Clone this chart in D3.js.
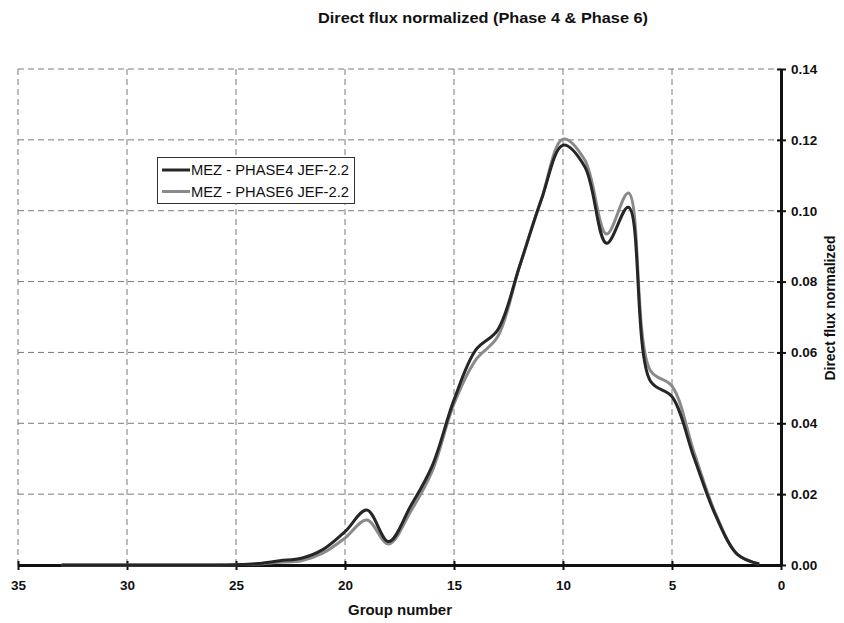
<!DOCTYPE html>
<html>
<head>
<meta charset="utf-8">
<script src="https://cdn.jsdelivr.net/npm/d3@7"></script>
<style>
  body { margin: 0; background: #fff; }
  text { font-family: "Liberation Sans", Arial, sans-serif; font-weight: bold; fill: #111; }
</style>
</head>
<body>
<svg id="chart" width="844" height="623"></svg>
<script>
// Energy groups (33 .. 1) and normalized direct flux per group
const groups = [33, 32, 31, 30, 29, 28, 27, 26, 25, 24, 23, 22, 21, 20, 19, 18, 17,
                16, 15, 14, 13, 12, 11, 10, 9, 8, 7, 6, 5, 4, 3, 2, 1];
const phase4 = [0, 0, 0, 0, 0, 0, 0, 0, 0.0001, 0.0004, 0.0012, 0.0019, 0.0044, 0.0094, 0.0155, 0.0066, 0.0165,
                0.028, 0.0466, 0.0607, 0.0663, 0.0842, 0.103, 0.1185, 0.1124, 0.0908, 0.101, 0.052, 0.0475, 0.0305, 0.014, 0.003, 0.0003];
const phase6 = [0, 0, 0, 0, 0, 0, 0, 0, 0.0001, 0.0003, 0.0008, 0.0012, 0.0034, 0.0076, 0.0127, 0.0059, 0.015,
                0.0265, 0.0455, 0.0579, 0.0644, 0.0842, 0.103, 0.1202, 0.1143, 0.0934, 0.105, 0.055, 0.0505, 0.032, 0.0145, 0.003, 0.0003];
const seriesNames = ["MEZ - PHASE4 JEF-2.2", "MEZ - PHASE6 JEF-2.2"];
const xTicks = [35, 30, 25, 20, 15, 10, 5, 0];
const yTicks = [0, 0.02, 0.04, 0.06, 0.08, 0.10, 0.12, 0.14];

const svg = d3.select("#chart");
const plotLeft = 18, plotRight = 781, plotTop = 69, plotBottom = 565;

const x = d3.scaleLinear().domain([35, 0]).range([plotLeft, plotRight]);
const y = d3.scaleLinear().domain([0, 0.14]).range([plotBottom, plotTop]);

// Title
svg.append("text").attr("x", 483).attr("y", 23).attr("text-anchor", "middle")
  .style("font-size", "15px").attr("textLength", 330).attr("lengthAdjust", "spacingAndGlyphs")
  .text("Direct flux normalized (Phase 4 & Phase 6)");

// Dashed grid
const grid = svg.append("g").attr("stroke", "#7a7a7a").attr("stroke-width", 1)
  .attr("stroke-dasharray", "6,4");
grid.selectAll("line.v").data(xTicks.filter(d => d !== 0)).join("line").attr("class", "v")
  .attr("x1", d => x(d)).attr("x2", d => x(d)).attr("y1", plotTop).attr("y2", plotBottom);
grid.selectAll("line.h").data(yTicks.filter(d => d !== 0)).join("line").attr("class", "h")
  .attr("x1", plotLeft).attr("x2", plotRight).attr("y1", d => y(d)).attr("y2", d => y(d));

// Axes
const xAxis = svg.append("g").attr("transform", `translate(0,${plotBottom})`)
  .call(d3.axisBottom(x).tickValues(xTicks).tickSize(5).tickSizeOuter(0).tickFormat(d3.format("d")));
const yAxis = svg.append("g").attr("transform", `translate(${plotRight},0)`)
  .call(d3.axisRight(y).tickValues(yTicks).tickSize(5).tickSizeOuter(0).tickFormat(d3.format(".2f")));
[xAxis, yAxis].forEach(g => {
  g.select(".domain").attr("stroke", "#111").attr("stroke-width", 3);
  g.selectAll(".tick line").attr("stroke", "#111").attr("stroke-width", 2);
  g.selectAll(".tick text").style("font-size", "13.5px").style("font-family", "Liberation Sans, Arial, sans-serif")
    .style("font-weight", "bold").attr("fill", "#111");
});
xAxis.selectAll(".tick line").attr("y1", -4).attr("y2", 5);
xAxis.selectAll(".tick text").attr("y", 15);
yAxis.selectAll(".tick line").attr("x1", -4).attr("x2", 5);
yAxis.selectAll(".tick text").attr("x", 10);

// Axis titles
svg.append("text").attr("x", 400).attr("y", 615).attr("text-anchor", "middle")
  .style("font-size", "14px").attr("textLength", 104).attr("lengthAdjust", "spacingAndGlyphs")
  .text("Group number");
svg.append("text").attr("transform", "translate(835,308) rotate(-90)").attr("text-anchor", "middle")
  .style("font-size", "14px").attr("textLength", 145).attr("lengthAdjust", "spacingAndGlyphs")
  .text("Direct flux normalized");

// Smoothed flux curves
const line = d3.line().x((d, i) => x(groups[i])).y(d => y(d)).curve(d3.curveCatmullRom.alpha(0.5));
const colors = ["#262626", "#8a8a8a"];
svg.append("path").datum(phase6).attr("d", line).attr("fill", "none")
  .attr("stroke", colors[1]).attr("stroke-width", 3);
svg.append("path").datum(phase4).attr("d", line).attr("fill", "none")
  .attr("stroke", colors[0]).attr("stroke-width", 3);

// Legend
const lg = svg.append("g");
lg.append("rect").attr("x", 157.5).attr("y", 157.5).attr("width", 197).attr("height", 46)
  .attr("fill", "#fff").attr("stroke", "#333").attr("stroke-width", 1);
seriesNames.forEach((name, i) => {
  const yy = 170 + i * 21.5;
  lg.append("line").attr("x1", 162).attr("x2", 190).attr("y1", yy).attr("y2", yy)
    .attr("stroke", colors[i]).attr("stroke-width", 3);
  lg.append("text").attr("x", 191).attr("y", yy + 5).style("font-size", "14px")
    .style("font-weight", "normal").attr("textLength", 158).attr("lengthAdjust", "spacingAndGlyphs")
    .text(name);
});
</script>
</body>
</html>
